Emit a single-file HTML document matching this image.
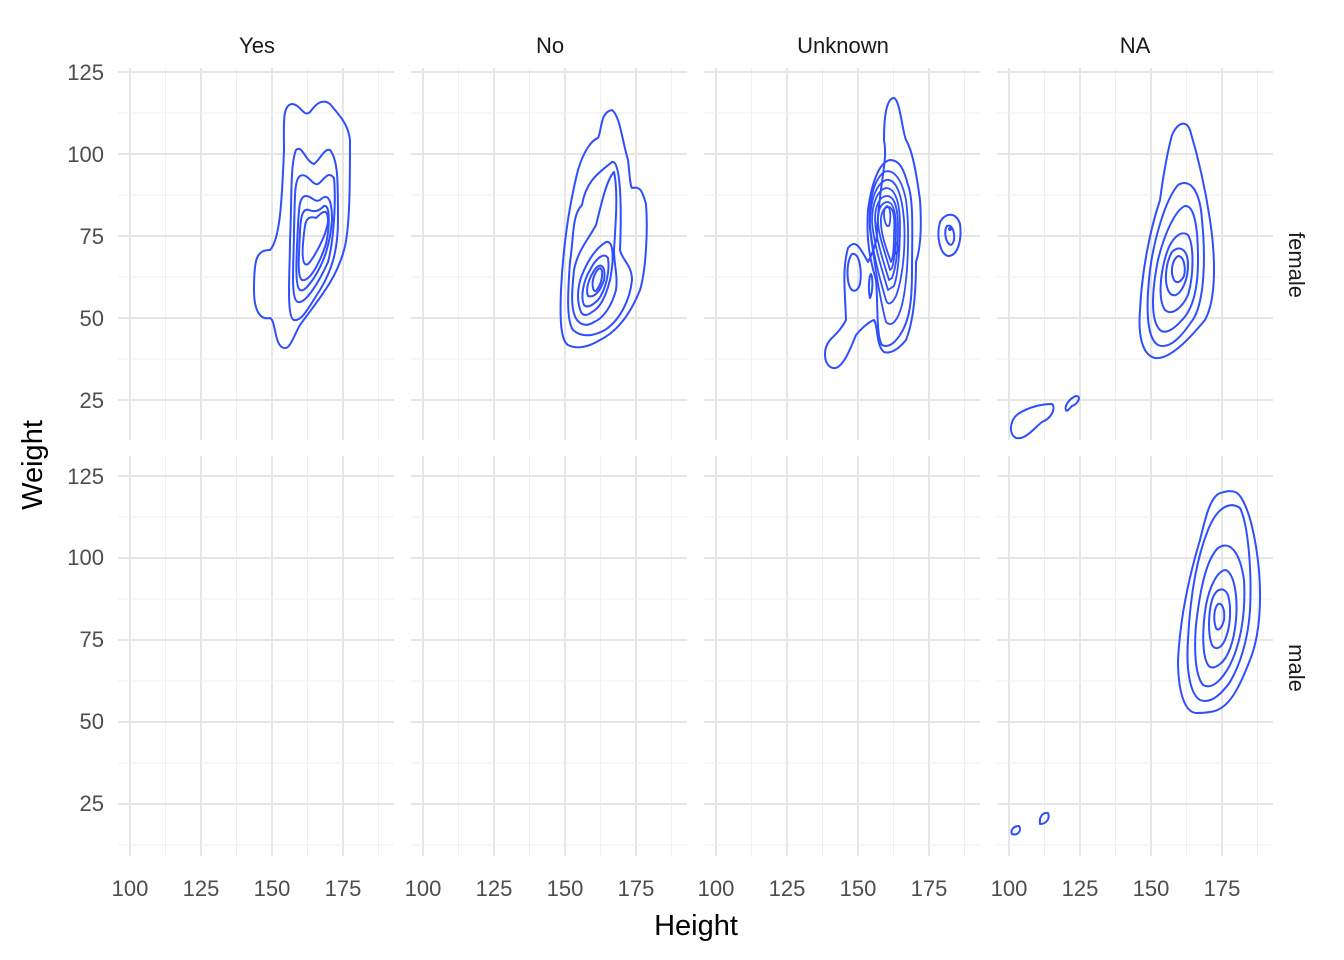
<!DOCTYPE html>
<html><head><meta charset="utf-8"><style>
body{margin:0;background:#fff}
svg{display:block;font-family:"Liberation Sans",Arial,sans-serif}
</style></head><body>
<svg width="1344" height="960" viewBox="0 0 1344 960" xmlns="http://www.w3.org/2000/svg">
<defs>
<g id="grid">
 <g stroke="#ebebeb" stroke-width="1.1">
  <line x1="35" y1="0" x2="35" y2="1"/>
 </g>
</g>
</defs>
<g id="panels"></g>
<script type="text/javascript"><![CDATA[
(function(){
var ns="http://www.w3.org/2000/svg";
var g=document.getElementById("panels");
function el(t,a,p){var e=document.createElementNS(ns,t);for(var k in a)e.setAttribute(k,a[k]);(p||g).appendChild(e);return e;}
var px=[130,423,716,1009], pl=[118,411,704,997], pw=276;
var rows=[{t:68,b:440,y125:72},{t:456,b:856,y125:476}];
rows.forEach(function(r){
 px.forEach(function(x0,i){
  var L=pl[i],R=L+pw;
  for(var v=112.5;v<=200;v+=25){var x=x0+(v-100)*2.84;if(x<R)el("line",{x1:x,x2:x,y1:r.t,y2:r.b,stroke:"#efefef","stroke-width":1});}
  for(var v=100;v<=200;v+=25){var x=x0+(v-100)*2.84;if(x<R)el("line",{x1:x,x2:x,y1:r.t,y2:r.b,stroke:"#e6e6e6","stroke-width":2});}
  for(var w=12.5;w<=125;w+=25){var y=r.y125+(125-w)*3.28;if(y>r.t&&y<r.b)el("line",{x1:L,x2:R,y1:y,y2:y,stroke:"#efefef","stroke-width":1});}
  for(var w=25;w<=125;w+=25){var y=r.y125+(125-w)*3.28;el("line",{x1:L,x2:R,y1:y,y2:y,stroke:"#e6e6e6","stroke-width":2});}
 });
});
})();
]]></script>
<g fill="none" stroke="#2f4fff" stroke-width="2" stroke-linejoin="round">
<!-- Panel Yes female -->
<path d="M284,348 C274,346 276,320 270,318 C262,320 254,314 254,290 C254,260 256,250 270,250 C280,240 282,200 284,150 C284,125 282,105 292,104 C300,104 304,118 310,112 C316,104 322,98 330,104 C340,116 348,124 350,140 C350,180 350,230 344,250 C336,280 318,300 300,325 C294,335 290,350 284,348 Z"/>
<path d="M294,320 C286,318 290,270 290,240 C292,200 290,165 296,150 C302,144 306,162 314,164 C320,160 324,148 330,150 C338,160 338,180 338,220 C338,250 332,270 320,290 C310,305 302,322 294,320 Z"/>
<path d="M298,302 C290,300 294,260 294,230 C295,200 294,180 300,176 C308,172 312,186 318,184 C324,180 328,170 334,178 C336,200 334,240 328,262 C320,280 306,304 298,302 Z"/>
<path d="M300,290 C294,286 297,250 298,225 C299,205 300,196 306,196 C312,196 314,203 320,200 C328,192 332,200 332,220 C330,245 324,262 314,278 C308,286 304,292 300,290 Z"/>
<path d="M302,280 C296,276 300,245 300,230 C301,215 303,208 309,210 C314,212 318,212 324,206 C330,204 330,225 326,244 C320,262 310,282 302,280 Z"/>
<path d="M305,264 C301,260 303,240 305,226 C306,218 310,216 316,218 C322,212 328,206 328,222 C326,234 320,246 314,256 C310,262 308,266 305,264 Z"/>
<!-- Panel No female -->
<path d="M568,345 C560,340 560,315 561,290 C563,250 568,210 578,170 C584,150 592,140 598,138 C602,130 600,112 612,110 C620,116 622,140 628,160 C630,178 630,185 632,188 C640,186 642,190 646,204 C648,230 646,270 640,290 C632,310 620,330 600,340 C590,346 578,350 568,345 Z"/>
<path d="M573,330 C566,320 568,290 570,262 C574,235 572,215 582,205 C586,180 600,172 612,162 C620,160 622,200 620,250 C622,260 632,265 632,280 C630,300 620,320 605,330 C594,336 582,338 573,330 Z"/>
<path d="M577,320 C570,310 572,290 574,270 C578,250 588,240 596,225 C600,210 606,180 614,172 C618,190 616,220 614,250 C614,265 618,275 616,290 C612,305 604,318 594,322 C588,326 582,326 577,320 Z"/>
<path d="M581,312 C576,300 578,285 582,275 C588,260 596,248 606,242 C614,240 614,260 610,280 C606,296 600,308 592,312 C587,316 583,316 581,312 Z"/>
<path d="M584,305 C580,296 584,280 590,270 C596,258 604,252 608,258 C610,270 606,290 598,300 C592,306 587,308 584,305 Z"/>
<path d="M588,296 C585,288 590,276 596,268 C602,262 606,268 604,280 C600,292 594,298 588,296 Z"/>
<path d="M593,288 C591,280 596,270 600,268 C604,270 602,282 598,288 C596,292 594,292 593,288 Z"/>
<!-- Panel Unknown female -->
<path d="M833,368 C824,366 822,350 830,340 C838,332 842,328 846,320 C845,290 842,270 848,248 C856,238 860,248 868,262 C872,254 878,240 877,230 C880,180 888,160 884,140 C884,110 888,98 894,98 C900,100 902,130 906,140 C912,150 916,170 920,200 C922,230 920,250 916,262 C916,290 914,320 906,340 C898,350 890,354 884,352 C876,346 878,325 874,320 C868,322 860,330 856,335 C850,350 842,370 833,368 Z"/>
<path d="M882,345 C876,336 878,300 876,280 C870,260 866,240 868,210 C872,180 880,162 890,160 C900,160 904,170 908,185 C914,200 912,240 912,270 C912,300 910,320 900,335 C894,344 888,348 882,345 Z"/>
<g stroke-width="1.8">
<path d="M886,322 C880,300 874,260 870,230 C868,200 874,180 884,172 C894,168 902,180 906,200 C910,230 908,280 902,305 C898,320 892,328 886,322 Z"/>
<path d="M886,300 C880,280 872,250 870,225 C870,200 876,184 886,180 C896,178 902,195 904,220 C906,250 902,280 896,296 C892,304 888,306 886,300 Z"/>
<path d="M888,290 C882,270 874,245 872,222 C872,202 878,190 886,188 C896,188 900,205 900,225 C900,250 898,275 894,286 Z"/>
<path d="M889,280 C883,260 876,240 875,220 C875,205 880,196 887,196 C895,196 898,210 898,228 C898,250 896,268 892,278 Z"/>
<path d="M890,270 C885,252 878,235 878,220 C878,208 882,202 888,202 C894,203 896,215 896,230 C896,248 894,262 892,268 Z"/>
<path d="M891,262 C886,248 880,232 881,218 C882,210 885,207 889,207 C894,208 895,220 894,234 C894,248 893,258 891,262 Z"/>
<path d="M887,226 C883,220 883,208 887,206 C891,207 891,220 889,226 Z"/>
<path d="M896,254 C894,250 895,244 897,243 C899,246 898,252 896,254 Z"/>
</g>
<path d="M852,290 C846,285 846,262 852,254 C860,252 862,272 860,284 C858,290 855,292 852,290 Z"/>
<path d="M870,298 C868,290 869,276 871,274 C873,278 873,292 870,298 Z"/>
<path d="M948,256 C940,254 936,236 940,222 C946,212 956,212 960,224 C962,240 958,256 948,256 Z"/>
<path d="M949,244 C945,240 944,230 947,226 C952,224 955,232 954,240 C953,244 951,246 949,244 Z"/>
<circle cx="950" cy="229" r="1" fill="#2f4fff"/>
<!-- Panel NA female -->
<path d="M1155,358 C1142,355 1138,335 1140,310 C1142,270 1150,230 1160,200 C1164,170 1168,150 1172,135 C1178,122 1186,120 1190,130 C1196,150 1204,180 1210,220 C1216,260 1216,300 1205,320 C1190,338 1170,360 1155,358 Z"/>
<path d="M1158,345 C1146,338 1146,305 1150,270 C1154,240 1165,200 1178,185 C1190,178 1200,190 1202,220 C1206,260 1204,300 1194,318 C1182,336 1170,350 1158,345 Z"/>
<path d="M1160,330 C1150,320 1152,290 1158,260 C1164,235 1175,210 1185,206 C1195,205 1198,230 1198,260 C1198,290 1192,310 1182,320 C1175,328 1166,335 1160,330 Z"/>
<path d="M1165,310 C1158,300 1160,275 1166,255 C1172,236 1182,230 1188,235 C1194,245 1194,275 1188,295 C1182,308 1172,316 1165,310 Z"/>
<path d="M1168,290 C1164,280 1166,262 1172,252 C1180,244 1188,250 1188,265 C1188,280 1182,292 1176,295 C1172,296 1170,294 1168,290 Z"/>
<path d="M1174,280 C1170,272 1172,260 1178,256 C1184,256 1186,268 1184,276 C1181,282 1177,284 1174,280 Z"/>
<path d="M1016,438 C1008,434 1010,420 1018,414 C1030,406 1044,404 1052,404 C1056,408 1052,418 1042,422 C1034,428 1026,440 1016,438 Z"/>
<path d="M1066,410 C1064,406 1070,398 1076,396 C1082,396 1078,404 1072,406 C1068,410 1067,412 1066,410 Z"/>
<!-- Panel NA male -->
<path d="M1196,713 C1184,712 1178,690 1178,660 C1180,620 1188,580 1200,540 C1206,515 1210,500 1218,494 C1228,490 1236,490 1240,496 C1250,510 1256,540 1259,570 C1262,610 1258,640 1250,660 C1240,685 1230,710 1210,712 C1204,713 1200,713 1196,713 Z"/>
<path d="M1200,700 C1190,694 1186,670 1188,640 C1190,600 1196,560 1208,530 C1216,510 1228,500 1240,508 C1248,524 1252,570 1250,610 C1248,640 1240,665 1230,682 C1220,696 1210,704 1200,700 Z"/>
<path d="M1203,685 C1195,675 1194,650 1196,625 C1200,590 1206,560 1218,548 C1230,540 1240,552 1244,580 C1246,615 1240,645 1230,665 C1222,680 1212,690 1203,685 Z"/>
<path d="M1208,665 C1202,655 1202,630 1206,605 C1210,585 1218,570 1226,570 C1234,574 1238,595 1236,620 C1234,642 1228,658 1220,664 C1215,668 1211,669 1208,665 Z"/>
<path d="M1212,645 C1208,635 1208,615 1212,600 C1216,588 1224,586 1228,595 C1232,610 1230,630 1224,642 C1220,649 1215,650 1212,645 Z"/>
<path d="M1216,628 C1213,620 1214,608 1218,604 C1223,602 1225,612 1224,620 C1222,628 1218,632 1216,628 Z"/>
<path d="M1012,834 C1010,830 1014,826 1019,826 C1022,830 1018,836 1012,834 Z"/>
<path d="M1040,824 C1039,818 1042,812 1048,813 C1050,818 1047,824 1040,824 Z"/>
</g>
<g font-size="22" fill="#1a1a1a" text-anchor="middle">
<text x="257" y="53">Yes</text>
<text x="550" y="53">No</text>
<text x="843" y="53">Unknown</text>
<text x="1135" y="53">NA</text>
</g>
<g font-size="22" fill="#1a1a1a" text-anchor="middle">
<text transform="translate(1289,265) rotate(90)">female</text>
<text transform="translate(1289,668) rotate(90)">male</text>
</g>
<g font-size="22" fill="#4d4d4d" text-anchor="end">
<text x="104" y="80">125</text><text x="104" y="162">100</text><text x="104" y="244">75</text><text x="104" y="326">50</text><text x="104" y="408">25</text>
<text x="104" y="484">125</text><text x="104" y="565">100</text><text x="104" y="647">75</text><text x="104" y="729">50</text><text x="104" y="811">25</text>
</g>
<g font-size="22" fill="#4d4d4d" text-anchor="middle">
<text x="130" y="896">100</text><text x="201" y="896">125</text><text x="272" y="896">150</text><text x="343" y="896">175</text>
<text x="423" y="896">100</text><text x="494" y="896">125</text><text x="565" y="896">150</text><text x="636" y="896">175</text>
<text x="716" y="896">100</text><text x="787" y="896">125</text><text x="858" y="896">150</text><text x="929" y="896">175</text>
<text x="1009" y="896">100</text><text x="1080" y="896">125</text><text x="1151" y="896">150</text><text x="1222" y="896">175</text>
</g>
<text x="696" y="935" font-size="29" text-anchor="middle" fill="#000">Height</text>
<text transform="translate(42,465) rotate(-90)" font-size="29" text-anchor="middle" fill="#000">Weight</text>
</svg>
</body></html>
